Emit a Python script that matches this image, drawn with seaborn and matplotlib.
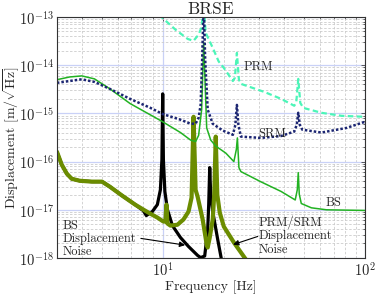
import numpy as np
import matplotlib
matplotlib.use("Agg")
import matplotlib.pyplot as plt
import seaborn as sns
from matplotlib.ticker import LogLocator, FuncFormatter, NullFormatter

# ---- data (frequency in Hz, displacement in m/sqrt(Hz)) ----
prm_f = [9.6, 10.0, 11.6, 13.3, 14.2, 15.05, 15.58, 15.94, 16.31, 17.67, 18.9, 20.05,
         22.23, 22.74, 23.27, 23.81, 24.36, 31.7, 38.5, 44.69, 45.73, 46.79, 47.87,
         49.55, 60.9, 76.6, 100.0]
prm_v = [1.1e-13, 9.5e-14, 5.4e-14, 3.5e-14, 3.2e-14, 4.3e-14, 6.2e-14, 2.0e-13, 4.7e-14,
         2.3e-14, 1.2e-14, 8.8e-15, 4.7e-15, 5.5e-15, 1.8e-14, 5.0e-15, 4.1e-15, 2.8e-15,
         2.0e-15, 1.44e-15, 1.7e-15, 5.2e-15, 1.65e-15, 1.3e-15, 1.03e-15, 8.9e-16, 8.5e-16]

srm_f = [3.0, 3.47, 3.98, 4.6, 5.5, 6.9, 8.7, 10.0, 12.25, 13.73, 14.54, 15.05, 15.4,
         15.67, 15.94, 16.22, 16.69, 17.67, 19.82, 22.23, 22.87, 23.27, 23.67, 24.36,
         30.62, 38.5, 44.69, 46.0, 46.79, 47.6, 48.98, 60.9, 81.1, 100.0]
srm_v = [4.3e-15, 4.7e-15, 5.1e-15, 4.5e-15, 3.2e-15, 2.0e-15, 1.3e-15, 9.7e-16, 7.4e-16,
         6.1e-16, 6.1e-16, 8.1e-16, 1.5e-15, 1.3e-14, 2.0e-13, 1.3e-14, 1.2e-15, 6.1e-16,
         4.4e-16, 3.6e-16, 5.8e-16, 1.5e-15, 5.8e-16, 3.3e-16, 3.1e-16, 3.4e-16, 4.2e-16,
         5.8e-16, 1.03e-15, 5.8e-16, 4.6e-16, 4.0e-16, 5.0e-16, 6.7e-16]

bs_f = [3.0, 3.47, 3.98, 4.6, 5.5, 6.9, 8.7, 10.0, 12.25, 13.73, 14.54, 15.05, 15.58,
        15.94, 16.5, 17.27, 18.29, 20.51, 22.48, 23.13, 23.4, 23.81, 24.36, 30.62, 38.5,
        45.2, 46.26, 46.79, 47.33, 48.42, 54.3, 64.5, 100.0]
bs_v = [5.0e-15, 5.7e-15, 6.0e-15, 5.2e-15, 3.2e-15, 1.6e-15, 9.3e-16, 6.7e-16, 4.0e-16,
        2.8e-16, 2.6e-16, 3.5e-16, 1.2e-15, 3.0e-14, 5.0e-16, 2.8e-16, 2.1e-16, 1.5e-16,
        1.0e-16, 1.8e-16, 3.1e-16, 7.5e-17, 6.2e-17, 3.8e-17, 2.4e-17, 1.6e-17, 2.6e-17,
        5.9e-17, 2.1e-17, 1.35e-17, 1.1e-17, 1.0e-17, 9.7e-18]

bs_noise_f = [3.0, 3.17, 3.36, 3.55, 3.89, 4.47, 5.01, 5.49, 6.30, 7.31, 8.02, 8.30,
              8.89, 9.41, 9.74, 9.91, 10.0, 10.08, 10.25, 10.55, 11.17, 12.25, 13.42,
              14.88, 15.4, 16.13, 16.69, 16.88, 17.08, 17.27, 17.67, 18.71, 19.6]
bs_noise_v = [1.6e-16, 8.6e-17, 5.6e-17, 4.4e-17, 4.0e-17, 3.84e-17, 3.84e-17, 3.0e-17,
              1.97e-17, 1.28e-17, 9.6e-18, 7.6e-18, 9.2e-18, 1.28e-17, 2.6e-17, 1.1e-16,
              2.54e-15, 1.1e-16, 2.4e-17, 1.01e-17, 4.7e-18, 2.65e-18, 1.73e-18, 1.13e-18,
              1.02e-18, 1.1e-18, 3.9e-18, 1.28e-17, 7.5e-17, 2.07e-17, 9.2e-18, 2.4e-18,
              8.5e-19]

pos_noise_f = [3.0, 3.17, 3.36, 3.55, 3.89, 4.47, 5.01, 5.49, 6.30, 7.31, 8.02, 8.69,
               9.41, 10.08, 10.31, 10.43, 10.55, 10.92, 11.83, 12.67, 13.42, 13.89, 14.21,
               14.54, 14.88, 15.76, 16.5, 16.69, 17.08, 17.67, 17.98, 18.29, 18.61, 19.15,
               20.05, 22.48, 25.79]
pos_noise_v = [1.6e-16, 8.6e-17, 5.6e-17, 4.4e-17, 4.0e-17, 3.84e-17, 3.84e-17, 3.0e-17,
               1.97e-17, 1.28e-17, 1.01e-17, 8.3e-18, 6.9e-18, 5.7e-18, 5.7e-18, 1.28e-17,
               5.2e-18, 4.7e-18, 4.9e-18, 6.3e-18, 9.2e-18, 1.79e-17, 8.5e-16, 2.6e-17,
               1.87e-17, 6.3e-18, 1.9e-18, 1.65e-18, 2.65e-18, 6.3e-18, 2.07e-17, 3.3e-16,
               2.07e-17, 8.7e-18, 4.5e-18, 2.1e-18, 9.3e-19]

x_major = [10, 100]
y_major = [1e-18, 1e-17, 1e-16, 1e-15, 1e-14, 1e-13]


def style_axes(ax):
    ax.set_xscale('log')
    ax.set_yscale('log')
    ax.set_xlim(3, 100)
    ax.set_ylim(1e-18, 1e-13)
    ax.set_xticks(x_major)
    ax.set_yticks(y_major)
    ax.xaxis.set_minor_locator(LogLocator(base=10, subs=np.arange(2, 10)))
    ax.yaxis.set_minor_locator(LogLocator(base=10, subs=np.arange(2, 10), numticks=20))
    fmt = FuncFormatter(lambda v, _: r'$10^{%d}$' % round(np.log10(v)))
    ax.xaxis.set_major_formatter(fmt)
    ax.yaxis.set_major_formatter(fmt)
    ax.xaxis.set_minor_formatter(NullFormatter())
    ax.yaxis.set_minor_formatter(NullFormatter())
    ax.grid(True, which='minor', color='#cccccc', linestyle=(0, (3, 2)), linewidth=0.6)
    ax.grid(True, which='major', color='#c9d1f7', linestyle='-', linewidth=0.9)
    ax.set_axisbelow(True)
    ax.tick_params(which='both', direction='in', top=True, right=True, labelsize=10.5,
                   length=3, width=0.6, color='#444444', pad=2)
    ax.tick_params(which='minor', length=1.5)
    for s in ax.spines.values():
        s.set_linewidth(0.8)
        s.set_color('#333333')


sns.set_style('white')
plt.rcParams['font.family'] = 'serif'
plt.rcParams['font.serif'] = ['cmr10', 'DejaVu Serif']
plt.rcParams['mathtext.fontset'] = 'cm'
plt.rcParams['axes.unicode_minus'] = False

fig, ax = plt.subplots(figsize=(3.82, 2.97), dpi=100)
fig.subplots_adjust(left=0.149, right=0.9555, top=0.9428, bottom=0.1313)
ax.set_xscale('log')
ax.set_yscale('log')

sns.lineplot(x=bs_noise_f, y=bs_noise_v, ax=ax, color='black', linewidth=2.3,
             errorbar=None, sort=False)
sns.lineplot(x=pos_noise_f, y=pos_noise_v, ax=ax, color='#6b8c00', linewidth=3.0,
             errorbar=None, sort=False)
sns.lineplot(x=bs_f, y=bs_v, ax=ax, color='#22b222', linewidth=1.1,
             errorbar=None, sort=False)
sns.lineplot(x=prm_f, y=prm_v, ax=ax, color='#4cf5b8', linewidth=1.6,
             linestyle=(0, (2.5, 1.5)), errorbar=None, sort=False)
sns.lineplot(x=srm_f, y=srm_v, ax=ax, color='#1c2672', linewidth=1.8,
             linestyle=(0, (1.0, 0.8)), errorbar=None, sort=False)

style_axes(ax)

ax.set_title('BRSE', fontsize=12.5, pad=2)
ax.set_xlabel('Frequency [Hz]', fontsize=10, labelpad=1)
ax.set_ylabel(r'Displacement [m/$\sqrt{\mathrm{Hz}}$]', fontsize=10)
ax.yaxis.set_label_coords(-0.112, 0.5)

ax.text(25.2, 9.2e-15, 'PRM', fontsize=9, va='center')
ax.text(29.6, 3.8e-16, 'SRM', fontsize=9, va='center')
ax.text(63.8, 1.4e-17, 'BS', fontsize=9, va='center')
ax.text(3.2, 2.5e-18, 'BS\nDisplacement\nNoise', fontsize=9, va='center',
        linespacing=1.1)
ax.text(29.9, 2.9e-18, 'PRM/SRM\nDisplacement\nNoise', fontsize=9, va='center',
        linespacing=1.1)

arrow = dict(arrowstyle='-|>', color='black', lw=0.8, mutation_scale=8,
             shrinkA=0, shrinkB=0)
ax.annotate('', xy=(12.9, 1.85e-18), xytext=(7.8, 2.55e-18), arrowprops=arrow)
ax.annotate('', xy=(22.3, 1.9e-18), xytext=(29.5, 2.8e-18), arrowprops=arrow)

plt.savefig('out.png', dpi=100)
